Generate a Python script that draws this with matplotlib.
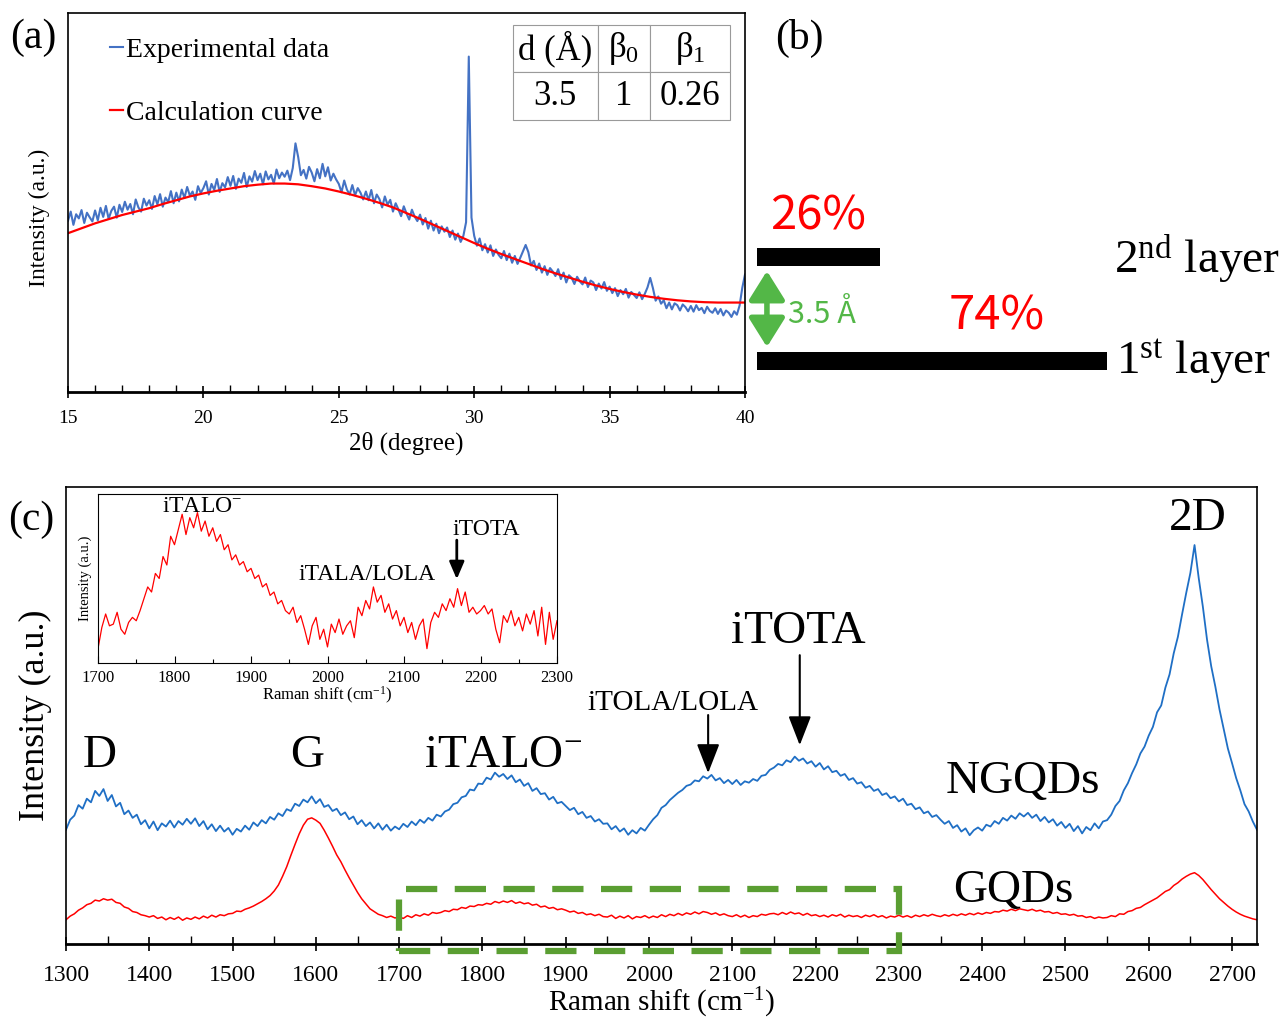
import numpy as np
import matplotlib
matplotlib.use('Agg')
from matplotlib import pyplot as plt
from matplotlib.patches import Rectangle

plt.rcParams['font.family'] = ['Liberation Serif', 'DejaVu Serif']
plt.rcParams['mathtext.fontset'] = 'custom'
plt.rcParams['mathtext.rm'] = 'Liberation Serif'
plt.rcParams['mathtext.it'] = 'Liberation Serif'

# ---- (a) XRD ----
xrd_2theta = np.round(np.arange(15.0, 40.01, 0.1), 1)
xrd_exp = [
    45.2, 47.6, 44.1, 46.9, 45.8, 48.0, 44.6, 47.3, 46.1, 45.0,
    47.9, 45.3, 48.6, 46.2, 49.1, 45.7, 47.8, 48.9, 46.0, 49.4,
    47.5, 50.2, 48.1, 49.6, 46.9, 50.8, 48.7, 47.6, 51.0, 49.2,
    50.6, 48.3, 51.7, 49.5, 52.2, 48.9, 51.3, 50.1, 53.0, 49.8,
    52.6, 50.3, 53.4, 51.2, 54.1, 51.8, 52.9, 50.7, 54.3, 52.5,
    53.8, 55.6, 52.1, 54.9, 53.3, 56.2, 52.8, 55.1, 54.0, 56.7,
    54.4, 57.0, 53.6, 56.3, 55.2, 57.8, 54.1, 56.9, 55.5, 58.3,
    55.9, 57.6, 54.8, 58.2, 56.1, 57.3, 55.0, 58.7, 56.4, 57.9,
    56.8, 58.4, 55.9, 59.1, 65.6, 62.0, 57.2, 58.6, 56.3, 59.4,
    57.9, 55.6, 58.8, 56.4, 60.2, 56.9, 59.3, 55.8, 57.6, 56.1,
    54.9, 52.7, 55.8, 53.4, 52.1, 54.6, 51.9, 53.8, 52.6, 50.8,
    52.9, 50.6, 53.3, 49.8, 52.1, 50.9, 48.7, 51.6, 49.4, 50.7,
    47.6, 49.8, 48.2, 46.4, 49.0, 47.1, 45.5, 48.1, 46.3, 45.1,
    46.8, 44.2, 45.9, 43.1, 45.2, 42.6, 44.4, 41.9, 43.7, 42.3,
    43.4, 40.9, 42.6, 40.2, 41.8, 39.6, 41.2, 44.8, 88.5, 46.0,
    41.2, 38.6, 40.5, 37.4, 39.0, 36.8, 38.7, 35.9, 37.6, 36.2,
    35.3, 37.2, 34.8, 36.5, 34.1, 35.9, 33.8, 35.4, 37.1, 38.8,
    36.9, 33.4, 34.6, 32.2, 33.9, 31.5, 33.2, 30.9, 32.7, 31.8,
    30.6, 32.4, 29.8, 31.5, 28.9, 30.8, 30.1, 28.5, 30.4, 29.2,
    28.4, 30.2, 27.7, 29.4, 28.9, 26.9, 28.6, 27.3, 29.0, 26.7,
    27.8, 26.1, 27.4, 25.3, 26.9, 25.8, 27.2, 24.9, 26.4, 25.6,
    24.8, 26.3, 24.5, 25.9, 27.6, 30.1, 27.4, 24.1, 25.2, 23.3,
    24.2, 22.1, 23.6, 21.8, 23.4, 22.9, 21.5, 23.1, 22.4, 21.3,
    22.7, 21.2, 22.9, 21.6, 22.2, 20.8, 22.5, 21.4, 20.9, 22.1,
    20.6, 21.9, 20.2, 21.5, 20.9, 19.8, 21.3, 20.4, 22.8, 27.5,
    31.0]
calc_2theta = np.arange(15.0, 40.01, 0.5)
calc_curve = [41.9, 43.2, 44.5, 45.6, 46.7, 47.6, 48.5, 49.6, 50.6, 51.6,
              52.4, 53.1, 53.7, 54.3, 54.7, 55.0, 55.0, 54.8, 54.3, 53.7,
              52.9, 52.0, 51.0, 49.9, 48.7, 47.2, 45.7, 44.1, 42.5, 40.9,
              39.3, 37.8, 36.4, 35.1, 33.8, 32.5, 31.3, 30.2, 29.1, 28.1,
              27.2, 26.4, 25.7, 25.1, 24.6, 24.2, 23.9, 23.7, 23.6, 23.6,
              23.6]
table_head = ['d (Å)', r'$\beta_0$', r'$\beta_1$']
table_vals = ['3.5', '1', '0.26']

# ---- (b) layers ----
layer_frac = [74, 26]

# ---- (c) Raman ----
raman_x = np.arange(1300, 2731, 5)
ngqds = [
    25.0, 27.2, 28.1, 30.4, 29.6, 31.8, 31.0, 33.5, 32.4, 33.9,
    31.3, 32.6, 30.1, 30.9, 28.4, 29.2, 27.6, 28.3, 26.2, 27.1,
    25.3, 26.8, 24.9, 26.4, 25.7, 27.0, 25.5, 26.9, 26.1, 27.4,
    26.3, 27.5, 25.8, 26.9, 25.1, 26.2, 24.7, 25.9, 24.6, 25.4,
    23.9, 25.2, 24.6, 25.9, 25.0, 26.6, 25.8, 27.1, 26.4, 27.8,
    27.2, 28.6, 28.0, 29.5, 29.1, 30.7, 30.2, 31.6, 31.0, 32.3,
    30.8, 31.7, 30.0, 30.4, 29.1, 29.6, 28.2, 28.8, 27.3, 27.9,
    26.2, 27.1, 25.8, 26.6, 25.3, 26.4, 25.0, 26.1, 24.8, 25.7,
    25.1, 26.3, 25.6, 26.8, 26.0, 27.2, 26.5, 27.6, 27.0, 28.3,
    27.9, 29.0, 29.4, 30.6, 30.9, 32.1, 32.4, 33.8, 33.6, 35.1,
    35.0, 36.4, 36.0, 37.5, 36.6, 37.2, 36.1, 36.9, 35.4, 36.0,
    34.6, 35.2, 33.5, 34.1, 32.8, 33.0, 31.6, 32.2, 30.8, 31.1,
    30.2, 29.3, 29.8, 28.4, 28.9, 27.6, 28.0, 26.8, 27.3, 26.3,
    26.4, 25.1, 25.8, 24.6, 25.3, 23.9, 24.9, 24.2, 25.4, 24.8,
    26.1, 27.3, 28.2, 29.8, 30.4, 31.5, 32.3, 33.1, 33.7, 34.6,
    34.9, 35.8, 35.6, 36.7, 36.2, 37.0, 35.8, 36.3, 35.2, 35.9,
    35.0, 35.9, 34.8, 35.6, 35.3, 36.1, 35.7, 36.8, 37.0, 38.1,
    38.6, 39.4, 39.1, 40.2, 39.8, 41.0, 40.1, 40.6, 39.5, 40.0,
    38.8, 39.6, 38.2, 38.9, 37.6, 37.9, 36.8, 37.2, 35.9, 36.3,
    35.1, 35.4, 34.2, 34.6, 33.5, 33.9, 32.6, 33.0, 31.9, 32.3,
    31.2, 31.8, 30.4, 30.7, 29.5, 29.9, 28.6, 29.0, 27.8, 28.2,
    27.2, 26.3, 26.9, 25.4, 26.0, 24.6, 25.3, 23.8, 24.9, 25.5,
    24.8, 26.1, 25.7, 26.9, 26.3, 27.6, 27.0, 28.1, 27.4, 28.6,
    27.9, 28.7, 27.6, 28.3, 26.9, 27.8, 26.6, 27.3, 25.9, 26.7,
    25.4, 26.3, 24.7, 25.8, 24.2, 25.6, 24.9, 26.4, 25.3, 26.8,
    27.1, 28.3, 30.2, 31.3, 33.6, 35.2, 37.4, 39.3, 41.7, 43.2,
    45.6, 47.5, 50.7, 52.2, 56.1, 59.0, 63.6, 67.2, 72.1, 76.8,
    81.2, 87.3, 80.1, 73.8, 66.6, 60.8, 56.3, 51.3, 47.1, 42.8,
    39.6, 36.3, 33.6, 30.6, 29.0, 26.8, 25.0]
gqds = [
    5.3, 6.1, 6.6, 7.4, 7.9, 8.6, 8.9, 9.6, 9.4, 9.9,
    9.6, 9.8, 9.1, 8.9, 8.1, 7.8, 7.1, 6.9, 6.4, 6.2,
    5.9, 6.2, 5.6, 5.9, 5.3, 5.8, 5.4, 5.9, 5.2, 5.7,
    5.4, 5.9, 5.5, 6.1, 5.7, 6.3, 5.9, 6.4, 6.2, 6.6,
    6.7, 7.2, 7.1, 7.6, 7.9, 8.3, 8.8, 9.3, 9.9, 10.6,
    11.6, 12.9, 14.8, 16.9, 19.4, 21.8, 24.1, 26.0, 27.3, 27.6,
    27.1, 26.4, 24.9, 23.2, 21.4, 19.5, 18.0, 16.2, 14.5, 12.9,
    11.3, 9.9, 8.8, 7.7, 7.1, 6.5, 6.2, 5.8, 6.1, 5.7,
    5.9, 5.6, 6.2, 5.8, 6.4, 6.1, 6.6, 6.3, 6.9, 6.7,
    6.9, 7.3, 7.1, 7.6, 7.5, 8.0, 7.8, 8.3, 8.2, 8.6,
    8.5, 8.9, 8.7, 9.3, 9.0, 9.4, 9.1, 9.5, 8.9, 9.2,
    8.8, 9.0, 8.5, 8.7, 8.1, 8.3, 7.8, 8.0, 7.5, 7.7,
    7.4, 7.0, 7.2, 6.7, 6.9, 6.4, 6.6, 6.2, 6.5, 6.0,
    5.9, 6.3, 5.6, 6.1, 5.7, 6.2, 5.5, 6.0, 5.8, 6.2,
    5.7, 6.1, 5.8, 6.4, 6.0, 6.5, 6.2, 6.7, 6.3, 6.8,
    6.5, 7.0, 6.6, 7.1, 6.9, 6.5, 6.8, 6.3, 6.6, 6.2,
    6.0, 6.4, 5.9, 6.3, 5.8, 6.2, 6.0, 6.5, 6.3, 6.6,
    6.7, 6.4, 6.9, 6.5, 7.0, 6.6, 6.8, 6.3, 6.7, 6.2,
    6.4, 6.0, 6.3, 5.9, 6.4, 6.1, 6.5, 5.9, 6.3, 6.0,
    6.2, 5.8, 6.3, 6.0, 6.4, 5.9, 6.2, 5.7, 6.1, 5.9,
    6.3, 5.9, 6.2, 5.8, 6.3, 6.0, 6.4, 6.1, 6.5, 6.2,
    6.0, 6.4, 6.1, 6.5, 6.2, 6.6, 6.3, 6.7, 6.4, 6.8,
    6.5, 6.9, 6.7, 7.1, 7.0, 7.4, 7.2, 7.6, 7.3, 7.7,
    7.5, 7.3, 7.6, 7.2, 7.4, 7.0, 7.1, 6.7, 6.9, 6.5,
    6.6, 6.3, 6.5, 6.1, 6.2, 5.8, 6.0, 5.6, 5.9, 5.7,
    5.8, 6.2, 6.0, 6.6, 6.5, 7.1, 7.3, 7.8, 8.0, 8.6,
    9.1, 9.6, 10.1, 10.8, 11.5, 11.9, 12.8, 13.4, 14.2, 14.8,
    15.3, 15.6, 15.0, 14.1, 13.0, 11.9, 10.9, 9.9, 9.1, 8.3,
    7.6, 7.0, 6.5, 6.1, 5.8, 5.5, 5.3]

# inset: GQDs 1700-2300 zoom
inset_x = np.arange(1700, 2301, 5)
inset_y = [
    8.5, 21, 29, 22, 23, 30, 20, 17, 24, 27,
    25, 31, 38, 45, 42, 53, 50, 63, 58, 75,
    70, 79, 88, 76, 86, 80, 89, 78, 84, 75,
    80, 72, 76, 67, 70, 61, 64, 58, 60, 54,
    56, 50, 52, 45, 47, 40, 42, 35, 37, 31,
    29, 33, 24, 28, 20, 11, 22, 27, 14, 20,
    9.5, 23, 18, 26, 17, 22, 25, 15, 33, 28,
    37, 32, 45, 36, 40, 30, 35, 26, 31, 22,
    27, 18, 24, 14, 22, 26, 8.5, 24, 30, 27,
    35, 31, 38, 33, 44, 34, 42, 30, 33, 29,
    31, 34, 29, 32, 20, 12, 28, 24, 31, 22,
    27, 19, 29, 23, 31, 16, 33, 11, 30, 14,
    25]

xrd_blue = '#4472C4'
raman_blue = '#1F6FC5'
red = '#FF0000'

fig = plt.figure(figsize=(12.82, 10.19), dpi=100)

# ------------- panel (a) -------------
ax = fig.add_axes([68/1282, 1-392/1019, 677/1282, 379/1019])
ax.plot(xrd_2theta, xrd_exp, color=xrd_blue, lw=1.5, label='Experimental data')
ax.plot(calc_2theta, calc_curve, color=red, lw=1.6, label='Calculation curve')
ax.set_xlim(15, 40)
ax.set_ylim(0, 100)
ax.set_yticks([])
ax.set_xticks([15, 20, 25, 30, 35, 40])
ax.set_xticks(np.arange(15, 41, 1), minor=True)
ax.tick_params(axis='x', which='major', direction='inout', length=8, width=1.2, labelsize=14, pad=9)
ax.tick_params(axis='x', which='minor', direction='in', length=5, width=1.0)
for s in ax.spines.values():
    s.set_linewidth(1.2)
ax.spines['bottom'].set_linewidth(2)
ax.set_xlabel('2θ (degree)', fontsize=18, labelpad=3)
ax.set_ylabel('Intensity (a.u.)', fontsize=17)
ax.yaxis.set_label_coords(-0.027, 0.46)
leg = ax.legend(loc='upper left', bbox_to_anchor=(0.045, 0.965), frameon=False, fontsize=20,
                handlelength=0.5, handletextpad=0.1, labelspacing=1.35, borderaxespad=0)
tbl = ax.table(cellText=[table_vals], colLabels=table_head, cellLoc='center',
               bbox=[0.657, 0.718, 0.3205, 0.251], colWidths=[85, 52, 80])
tbl.auto_set_font_size(False)
for (r, c), cell in tbl.get_celld().items():
    cell.set_edgecolor('#9a9a9a')
    cell.set_linewidth(0.8)
    cell.get_text().set_fontsize(25)
tbl[1, 1]._loc = 'right'
tbl[1, 2]._loc = 'right'

fig.text(10/1282, 1-38/1019, '(a)', fontsize=30, va='center', ha='left')
fig.text(775/1282, 1-38/1019, '(b)', fontsize=30, va='center', ha='left')
fig.text(8/1282, 1-520/1019, '(c)', fontsize=30, va='center', ha='left')

# ------------- panel (b) -------------
axb = fig.add_axes([757/1282, 1-400/1019, 525/1282, 220/1019])
axb.set_xlim(0, 525/(350/74))
axb.set_ylim(400, 180)
axb.axis('off')
axb.barh([361, 257], layer_frac, height=18, color='black')
pct_font = ['Noto Sans CJK TC', 'DejaVu Sans']
axb.text(layer_frac[1]/2, 230, f'{layer_frac[1]}%', color=red, fontsize=34, ha='center',
         va='baseline', family=pct_font)
axb.text(50.7, 330, f'{layer_frac[0]}%', color=red, fontsize=34, ha='center',
         va='baseline', family=pct_font)
axb.text(75.5, 273, r'2$^{\mathrm{nd}}$ layer', fontsize=34, ha='left', va='baseline')
axb.text(76.0, 373, r'1$^{\mathrm{st}}$ layer', fontsize=34, ha='left', va='baseline')
axb.annotate('', xy=(2.1, 347), xytext=(2.1, 271),
             arrowprops=dict(arrowstyle='<|-|>,head_width=0.5,head_length=0.8',
                             color='#53B747', lw=4, shrinkA=0, shrinkB=0, mutation_scale=22))
axb.text(6.6, 323, '3.5 Å', color='#53B747', fontsize=22, ha='left', va='baseline',
         family=pct_font)

# ------------- panel (c) -------------
axc = fig.add_axes([66/1282, 1-944/1019, 1191/1282, 457/1019])
axc.plot(raman_x, ngqds, color=raman_blue, lw=1.3)
axc.plot(raman_x, gqds, color=red, lw=1.1)
axc.set_xlim(1300, 2730)
axc.set_ylim(0, 100)
axc.set_yticks([])
axc.set_xticks(np.arange(1300, 2701, 100))
axc.set_xticks(np.arange(1300, 2731, 50), minor=True)
axc.tick_params(axis='x', which='major', direction='inout', length=10, width=1.2, labelsize=17, pad=10)
axc.tick_params(axis='x', which='minor', direction='in', length=6, width=1.0)
for s in axc.spines.values():
    s.set_linewidth(1.2)
axc.spines['bottom'].set_linewidth(2)
axc.set_xlabel(r'Raman shift (cm$^{\mathrm{-1}}$)', fontsize=21, labelpad=0)
axc.set_ylabel('Intensity (a.u.)', fontsize=26)
axc.yaxis.set_label_coords(-0.012, 0.5)

axc.add_patch(Rectangle((1700, -1.5), 600, 13.5, fill=False, edgecolor='#5A9E32', lw=4.5,
                        linestyle=(0, (5, 2.8)), clip_on=False, zorder=5))

big = 34
axc.text(1341, 38.7, 'D', fontsize=big, ha='center', va='baseline')
axc.text(1590, 38.7, 'G', fontsize=big, ha='center', va='baseline')
axc.text(1825, 38.7, r'iTALO$^{\mathrm{-}}$', fontsize=big, ha='center', va='baseline')
axc.text(2029, 51.2, 'iTOLA/LOLA', fontsize=21, ha='center', va='baseline')
axc.text(2179, 65.9, 'iTOTA', fontsize=big, ha='center', va='baseline')
axc.text(2449, 33.0, 'NGQDs', fontsize=big, ha='center', va='baseline')
axc.text(2438, 9.2, 'GQDs', fontsize=big, ha='center', va='baseline')
axc.text(2659, 90.6, '2D', fontsize=big, ha='center', va='baseline')
arw = dict(arrowstyle='-|>,head_width=0.35,head_length=0.9', color='black', lw=1.5,
           shrinkA=0, shrinkB=0, mutation_scale=20)
axc.annotate('', xy=(2071, 37.4), xytext=(2071, 50.1), arrowprops=arw)
axc.annotate('', xy=(2181, 43.5), xytext=(2181, 63.2), arrowprops=arw)

# inset
axi = fig.add_axes([98/1282, 1-663/1019, 459/1282, 169/1019])
axi.plot(inset_x, inset_y, color=red, lw=0.9)
axi.set_xlim(1700, 2300)
axi.set_ylim(0, 100)
axi.set_yticks([])
axi.set_xticks(np.arange(1700, 2301, 100))
axi.set_xticks(np.arange(1700, 2301, 50), minor=True)
axi.tick_params(axis='x', which='major', direction='in', length=5, width=0.8, labelsize=12, pad=5)
axi.tick_params(axis='x', which='minor', direction='in', length=3, width=0.8)
for s in axi.spines.values():
    s.set_linewidth(0.8)
axi.set_xlabel(r'Raman shift (cm$^{\mathrm{-1}}$)', fontsize=12, labelpad=-1)
axi.set_ylabel('Intensity (a.u.)', fontsize=10.5, labelpad=4)
axi.text(1836, 89.3, r'iTALO$^{\mathrm{-}}$', fontsize=17, ha='center', va='baseline')
axi.text(2052, 49, 'iTALA/LOLA', fontsize=17, ha='center', va='baseline')
axi.text(2207, 75.7, 'iTOTA', fontsize=17, ha='center', va='baseline')
axi.annotate('', xy=(2169, 49.6), xytext=(2169, 72.7),
             arrowprops=dict(arrowstyle='-|>,head_width=0.3,head_length=0.7', color='black',
                             lw=2, shrinkA=0, shrinkB=0, mutation_scale=15))

plt.savefig('out.png', dpi=100)
